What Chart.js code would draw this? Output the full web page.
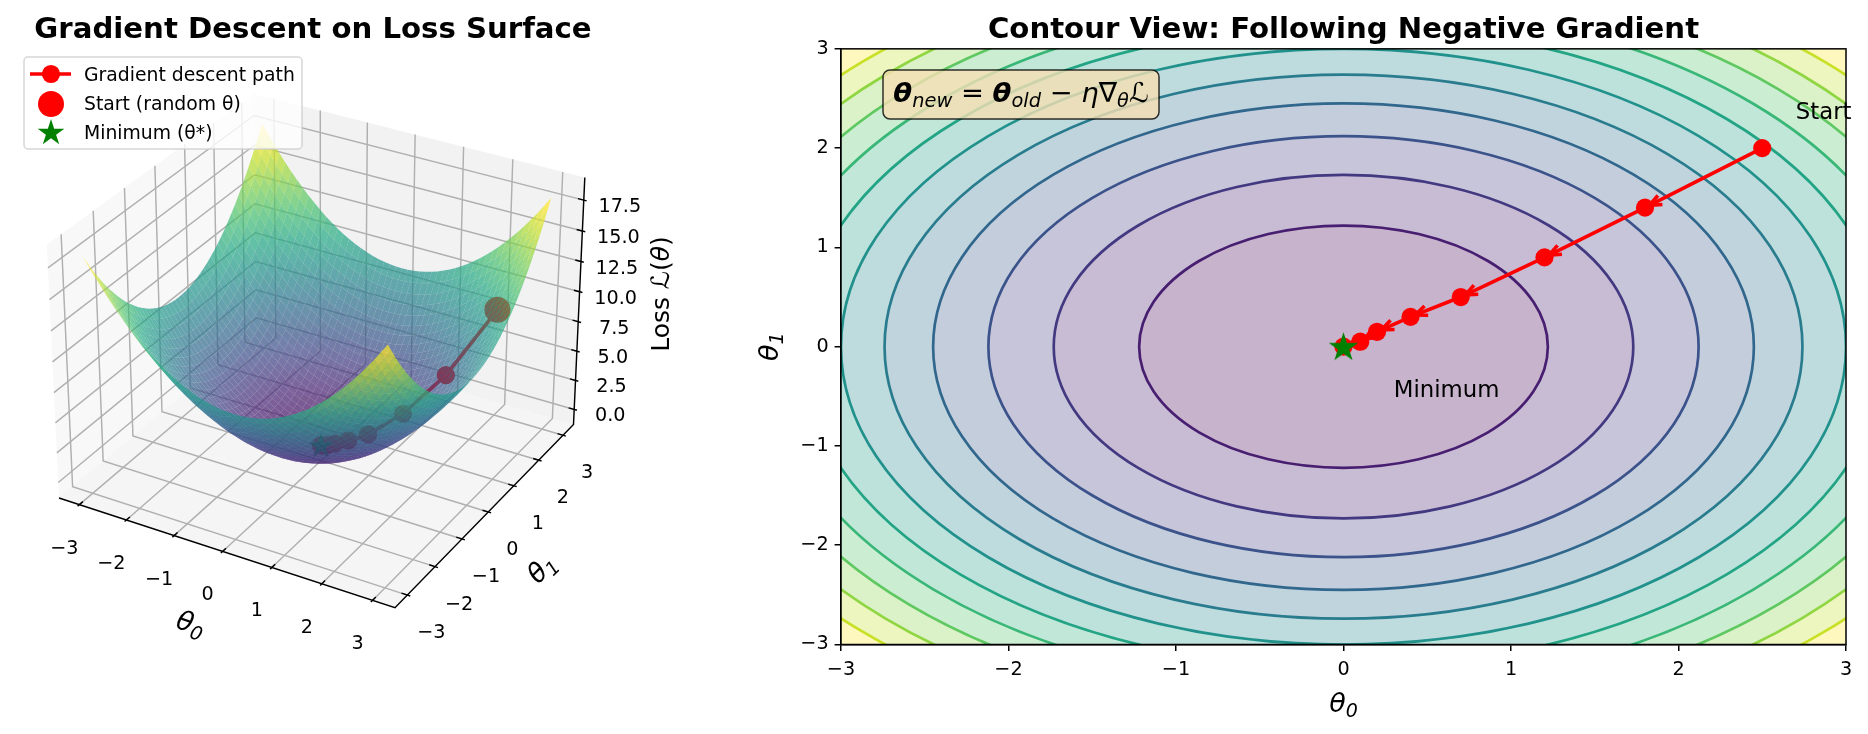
<!DOCTYPE html>
<html>
<head>
<meta charset="utf-8">
<script src="https://cdn.jsdelivr.net/npm/chart.js@4"></script>
<style>
    html, body { margin: 0; padding: 0; background: #fff; }
    canvas { position: absolute; top: 0; }
    #surface { left: 0; }
    #contour { left: 720px; }
</style>
</head>
<body>
<canvas id="surface" width="720" height="734"></canvas>
<canvas id="contour" width="1148" height="734"></canvas>
<script>
// descent path
const pathTheta0 = [2.5, 1.8, 1.2, 0.7, 0.4, 0.2, 0.1, 0];
const pathTheta1 = [2, 1.4, 0.9, 0.5, 0.3, 0.15, 0.05, 0];
const pathLoss = [10.25, 5.2, 2.25, 0.74, 0.25, 0.06, 0.01, 0];

// contour rings
const contourLevels = [1.5, 3, 4.5, 6, 7.5, 9, 10.5, 12, 13.5, 15, 16.5];
const contourRadii = [1.22, 1.73, 2.12, 2.45, 2.74, 3, 3.24, 3.46, 3.67, 3.87, 4.06];

// bowl surface: loss(i, j) = lossProfile[i] + lossProfile[j]
const thetaGrid = [-3, -2.875, -2.75, -2.625, -2.5, -2.375, -2.25, -2.125, -2, -1.875, -1.75, -1.625, -1.5, -1.375, -1.25, -1.125, -1, -0.875, -0.75, -0.625, -0.5, -0.375, -0.25, -0.125, 0, 0.125, 0.25, 0.375, 0.5, 0.625, 0.75, 0.875, 1, 1.125, 1.25, 1.375, 1.5, 1.625, 1.75, 1.875, 2, 2.125, 2.25, 2.375, 2.5, 2.625, 2.75, 2.875, 3];
const lossProfile = [9, 8.27, 7.56, 6.89, 6.25, 5.64, 5.06, 4.52, 4, 3.52, 3.06, 2.64, 2.25, 1.89, 1.56, 1.27, 1, 0.77, 0.56, 0.39, 0.25, 0.14, 0.06, 0.02, 0, 0.02, 0.06, 0.14, 0.25, 0.39, 0.56, 0.77, 1, 1.27, 1.56, 1.89, 2.25, 2.64, 3.06, 3.52, 4, 4.52, 5.06, 5.64, 6.25, 6.89, 7.56, 8.27, 9];

const thetaTicks = [-3, -2, -1, 0, 1, 2, 3];
const lossTicks = [0, 2.5, 5, 7.5, 10, 12.5, 15, 17.5];

const legendLabels = ['Gradient descent path', 'Start (random θ)', 'Minimum (θ*)'];
const noteLabels = ['Start', 'Minimum'];
const noteTheta0 = [2.7, 0.3];
const noteTheta1 = [2.3, -0.5];

const FONT = '"DejaVu Sans"';
const viridis = ['#440154', '#482475', '#414487', '#355f8d', '#2a788e', '#21918c', '#22a884', '#44bf70', '#7ad151', '#bddf26', '#fde725']
    .map(h => [parseInt(h.slice(1, 3), 16), parseInt(h.slice(3, 5), 16), parseInt(h.slice(5, 7), 16)]);

function viridisAt(t) {
    const p = Math.max(0, Math.min(1, t)) * 10;
    const i = Math.min(9, Math.floor(p));
    return viridis[i].map((c, k) => c + (viridis[i + 1][k] - c) * (p - i));
}

function rgba(c, a) {
    return `rgba(${Math.round(c[0])},${Math.round(c[1])},${Math.round(c[2])},${a})`;
}

function fmtMinus(v) {
    return String(v).replace('-', '\u2212');
}

// star marker as a small canvas, chart.js has no filled star
function starCanvas(d) {
    const c = document.createElement('canvas');
    c.width = c.height = d + 2;
    const g = c.getContext('2d');
    starPath(g, (d + 2) / 2, (d + 2) / 2 + 1, d / 2);
    g.fillStyle = '#008000';
    g.fill();
    return c;
}

function starPath(g, x, y, r) {
    g.beginPath();
    for (let i = 0; i < 10; i++) {
        const a = -Math.PI / 2 + i * Math.PI / 5;
        const rr = i % 2 ? r * 0.382 : r;
        g.lineTo(x + rr * Math.cos(a), y + rr * Math.sin(a));
    }
    g.closePath();
}

// text in mixed fonts, parts are [text, font, baseline shift]
function drawMath(ctx, parts, x, y, rotation) {
    ctx.save();
    ctx.translate(x, y);
    ctx.rotate(rotation || 0);
    ctx.textBaseline = 'alphabetic';
    ctx.textAlign = 'left';
    ctx.fillStyle = '#000';
    let width = 0;
    parts.forEach(p => { ctx.font = p[1]; width += ctx.measureText(p[0]).width; });
    let cx = -width / 2;
    parts.forEach(p => {
        ctx.font = p[1];
        ctx.fillText(p[0], cx, p[2] || 0);
        cx += ctx.measureText(p[0]).width;
    });
    ctx.restore();
}

/* ---------- 3d view, elev 30 azim -60 ---------- */
const LIM = 3.4375, ZMIN = -1.3125, ZMAX = 19.3125;
const BOX_XY = 0.5953, BOX_Z = 0.4465;
const ce = Math.cos(Math.PI / 6), se = Math.sin(Math.PI / 6);
const ca = Math.cos(-Math.PI / 3), sa = Math.sin(-Math.PI / 3);

function project(t0, t1, z) {
    const bx = t0 / LIM * BOX_XY;
    const by = t1 / LIM * BOX_XY;
    const bz = ((z - ZMIN) / (ZMAX - ZMIN) * 2 - 1) * BOX_Z;
    const xv = -sa * bx + ca * by;
    const yv = -se * ca * bx - se * sa * by + ce * bz;
    const zv = ce * ca * bx + ce * sa * by + se * bz - 10;
    return {x: xv / -zv, y: yv / -zv, depth: zv};
}

// one polygon per grid cell, back to front
const surfaceCells = [];
for (let i = 0; i < thetaGrid.length - 1; i++) {
    for (let j = 0; j < thetaGrid.length - 1; j++) {
        const corners = [[i, j], [i + 1, j], [i + 1, j + 1], [i, j + 1]].map(c =>
            project(thetaGrid[c[0]], thetaGrid[c[1]], lossProfile[c[0]] + lossProfile[c[1]]));
        const avg = (lossProfile[i] + lossProfile[i + 1]) / 2 + (lossProfile[j] + lossProfile[j + 1]) / 2;
        const depth = corners.reduce((s, c) => s + c.depth, 0) / 4;
        surfaceCells.push({corners, color: rgba(viridisAt(avg / 17.2), 0.7), depth});
    }
}
surfaceCells.sort((a, b) => a.depth - b.depth);

const pathPoints = pathTheta0.map((t, i) => project(t, pathTheta1[i], pathLoss[i]));

const surfacePlugin = {
    id: 'surfacePlugin',
    beforeDatasetsDraw(chart) {
        const ctx = chart.ctx;
        const px = p => [chart.scales.x.getPixelForValue(p.x), chart.scales.y.getPixelForValue(p.y)];
        const pt = (a, b, c) => px(project(a, b, c));
        const poly = (pts, fill) => {
            ctx.beginPath();
            pts.forEach(p => ctx.lineTo(p[0], p[1]));
            ctx.closePath();
            ctx.fillStyle = fill;
            ctx.fill();
        };
        const seg = (pts, color, width) => {
            ctx.beginPath();
            pts.forEach(p => ctx.lineTo(p[0], p[1]));
            ctx.strokeStyle = color;
            ctx.lineWidth = width;
            ctx.stroke();
        };
        ctx.save();
        // panes
        poly([pt(-LIM, -LIM, ZMIN), pt(-LIM, LIM, ZMIN), pt(-LIM, LIM, ZMAX), pt(-LIM, -LIM, ZMAX)], 'rgba(242,242,242,0.5)');
        poly([pt(-LIM, LIM, ZMIN), pt(LIM, LIM, ZMIN), pt(LIM, LIM, ZMAX), pt(-LIM, LIM, ZMAX)], 'rgba(230,230,230,0.5)');
        poly([pt(-LIM, -LIM, ZMIN), pt(LIM, -LIM, ZMIN), pt(LIM, LIM, ZMIN), pt(-LIM, LIM, ZMIN)], 'rgba(236,236,236,0.5)');
        // grid
        const gridColor = '#b0b0b0';
        thetaTicks.forEach(t => {
            seg([pt(t, -LIM, ZMIN), pt(t, LIM, ZMIN), pt(t, LIM, ZMAX)], gridColor, 1.45);
            seg([pt(-LIM, t, ZMAX), pt(-LIM, t, ZMIN), pt(LIM, t, ZMIN)], gridColor, 1.45);
        });
        lossTicks.forEach(z => {
            seg([pt(-LIM, -LIM, z), pt(-LIM, LIM, z), pt(LIM, LIM, z)], gridColor, 1.45);
        });
        // axis lines and ticks
        seg([pt(-LIM, -LIM, ZMIN), pt(LIM, -LIM, ZMIN), pt(LIM, LIM, ZMIN), pt(LIM, LIM, ZMAX)], '#000', 1.45);
        const dt = 0.573, dout = 0.1 * dt, din = 0.2 * dt;
        thetaTicks.forEach(t => {
            seg([pt(t, -LIM - dout, ZMIN), pt(t, -LIM + din, ZMIN)], '#000', 1.45);
            seg([pt(LIM + dout, t, ZMIN), pt(LIM - din, t, ZMIN)], '#000', 1.45);
        });
        lossTicks.forEach(z => {
            seg([pt(LIM + dout, LIM, z), pt(LIM - din, LIM, z)], '#000', 1.45);
        });
        // tick labels
        ctx.font = `19.2px ${FONT}`;
        ctx.fillStyle = '#000';
        ctx.textAlign = 'center';
        ctx.textBaseline = 'middle';
        thetaTicks.forEach(t => {
            const a = pt(t, -LIM, ZMIN);
            ctx.fillText(fmtMinus(t), a[0] - 15, a[1] + 44);
            const b = pt(LIM, t, ZMIN);
            ctx.fillText(fmtMinus(t), b[0] + 24, b[1] + 38);
        });
        lossTicks.forEach(z => {
            const c = pt(LIM, LIM, z);
            ctx.fillText(z.toFixed(1), c[0] + 36, c[1] + 7);
        });
        ctx.restore();
    },
    afterDatasetsDraw(chart) {
        const ctx = chart.ctx;
        const sx = chart.scales.x, sy = chart.scales.y;
        ctx.save();
        surfaceCells.forEach(cell => {
            ctx.beginPath();
            cell.corners.forEach(c => ctx.lineTo(sx.getPixelForValue(c.x), sy.getPixelForValue(c.y)));
            ctx.closePath();
            ctx.fillStyle = cell.color;
            ctx.fill();
        });
        ctx.restore();

        // axis titles
        const it = `italic 27px ${FONT}`, sub = `italic 19px ${FONT}`, reg = `25px ${FONT}`, cal = `italic 25px ${FONT}`;
        drawMath(ctx, [['θ', it], ['0', sub, 5]], 188, 632, 18 * Math.PI / 180);
        drawMath(ctx, [['θ', it], ['1', sub, 5]], 548, 575, -45 * Math.PI / 180);
        drawMath(ctx, [['Loss ', reg], ['ℒ', cal], ['(', reg], ['θ', cal], [')', reg]], 669, 294, -Math.PI / 2);

        // legend
        ctx.save();
        ctx.beginPath();
        ctx.roundRect(24, 57, 278, 92, 4);
        ctx.fillStyle = 'rgba(255,255,255,0.8)';
        ctx.fill();
        ctx.strokeStyle = 'rgba(204,204,204,0.8)';
        ctx.lineWidth = 1.5;
        ctx.stroke();
        ctx.beginPath();
        ctx.moveTo(30, 74);
        ctx.lineTo(71, 74);
        ctx.strokeStyle = '#ff0000';
        ctx.lineWidth = 3.6;
        ctx.stroke();
        ctx.fillStyle = '#ff0000';
        ctx.beginPath();
        ctx.arc(51, 74, 9.1, 0, Math.PI * 2);
        ctx.fill();
        ctx.beginPath();
        ctx.arc(51, 104, 13, 0, Math.PI * 2);
        ctx.fill();
        starPath(ctx, 51, 133, 14);
        ctx.fillStyle = '#008000';
        ctx.fill();
        ctx.fillStyle = '#000';
        ctx.font = `18.8px ${FONT}`;
        ctx.textAlign = 'left';
        ctx.textBaseline = 'middle';
        legendLabels.forEach((label, i) => ctx.fillText(label, 84, 76 + i * 29));
        ctx.restore();
    }
};

new Chart(document.getElementById('surface'), {
    type: 'scatter',
    data: {
        datasets: [
            {
                label: legendLabels[0],
                data: pathPoints.map(p => ({x: p.x, y: p.y})),
                showLine: true,
                borderColor: '#ff0000',
                borderWidth: 3.6,
                backgroundColor: '#ff0000',
                pointRadius: 9.1,
                pointBorderWidth: 0,
                order: 3
            },
            {
                label: legendLabels[1],
                data: [{x: pathPoints[0].x, y: pathPoints[0].y}],
                backgroundColor: '#ff0000',
                pointRadius: 13,
                pointBorderWidth: 0,
                order: 2
            },
            {
                label: legendLabels[2],
                data: [{x: pathPoints[7].x, y: pathPoints[7].y}],
                pointStyle: starCanvas(26),
                order: 1
            }
        ]
    },
    options: {
        responsive: false,
        animation: false,
        devicePixelRatio: 1,
        events: [],
        layout: {autoPadding: false, padding: {left: 0, right: 94, top: 0, bottom: 0}},
        scales: {
            x: {display: false, type: 'linear', min: -0.09929, max: 0.09434},
            y: {display: false, type: 'linear', min: -0.12239, max: 0.08954}
        },
        plugins: {
            legend: {display: false},
            tooltip: {enabled: false},
            title: {
                display: true,
                text: 'Gradient Descent on Loss Surface',
                color: '#000',
                font: {family: FONT, size: 29.2, weight: 'bold'},
                padding: {top: 12.5, bottom: 1.3}
            }
        }
    },
    plugins: [surfacePlugin]
});

/* ---------- contour panel ---------- */
const contourPlugin = {
    id: 'contourPlugin',
    beforeDatasetsDraw(chart) {
        const ctx = chart.ctx, a = chart.chartArea;
        const sx = chart.scales.x, sy = chart.scales.y;
        const cx = sx.getPixelForValue(0), cy = sy.getPixelForValue(0);
        const ring = r => {
            ctx.beginPath();
            ctx.ellipse(cx, cy, sx.getPixelForValue(r) - cx, cy - sy.getPixelForValue(r), 0, 0, Math.PI * 2);
        };
        const band = i => {
            const c = viridisAt(i / contourRadii.length).map(v => v * 0.3 + 255 * 0.7);
            return rgba(c, 1);
        };
        ctx.save();
        ctx.beginPath();
        ctx.rect(a.left, a.top, a.width, a.height);
        ctx.clip();
        ctx.fillStyle = band(contourRadii.length);
        ctx.fillRect(a.left, a.top, a.width, a.height);
        for (let i = contourRadii.length - 1; i >= 0; i--) {
            ring(contourRadii[i]);
            ctx.fillStyle = band(i);
            ctx.fill();
        }
        contourRadii.forEach((r, i) => {
            ring(r);
            ctx.strokeStyle = rgba(viridisAt(contourLevels[i] / 18), 1);
            ctx.lineWidth = 2.7;
            ctx.stroke();
        });
        ctx.restore();
    },
    afterDatasetDraw(chart, args) {
        if (args.index !== 0) return;
        const ctx = chart.ctx;
        const sx = chart.scales.x, sy = chart.scales.y;
        ctx.save();
        ctx.strokeStyle = '#ff0000';
        ctx.lineWidth = 3.6;
        ctx.lineJoin = 'miter';
        for (let i = 1; i < pathTheta0.length; i++) {
            const x0 = sx.getPixelForValue(pathTheta0[i - 1]), y0 = sy.getPixelForValue(pathTheta1[i - 1]);
            const x1 = sx.getPixelForValue(pathTheta0[i]), y1 = sy.getPixelForValue(pathTheta1[i]);
            const len = Math.hypot(x0 - x1, y0 - y1);
            const ux = (x0 - x1) / len, uy = (y0 - y1) / len;
            const tipX = x1 + ux * 5, tipY = y1 + uy * 5;
            ctx.beginPath();
            ctx.moveTo(tipX + ux * 12 - uy * 5, tipY + uy * 12 + ux * 5);
            ctx.lineTo(tipX, tipY);
            ctx.lineTo(tipX + ux * 12 + uy * 5, tipY + uy * 12 - ux * 5);
            ctx.stroke();
        }
        ctx.restore();
    },
    afterDraw(chart) {
        const ctx = chart.ctx, a = chart.chartArea;
        const sx = chart.scales.x, sy = chart.scales.y;
        ctx.save();
        ctx.strokeStyle = '#000';
        ctx.lineWidth = 1.5;
        ctx.strokeRect(a.left, a.top, a.width, a.height);

        // equation box
        ctx.beginPath();
        ctx.roundRect(163, 70, 276, 49, 7);
        ctx.fillStyle = 'rgba(245,222,179,0.8)';
        ctx.fill();
        ctx.strokeStyle = 'rgba(0,0,0,0.8)';
        ctx.lineWidth = 1.5;
        ctx.stroke();
        const big = 27.4, small = 19.4;
        const bi = `italic bold ${big}px ${FONT}`, it = `italic ${big}px ${FONT}`, re = `${big}px ${FONT}`, sb = `italic ${small}px ${FONT}`;
        drawMath(ctx, [
            ['θ', bi], ['new', sb, 5], [' = ', re], ['θ', bi], ['old', sb, 5], [' \u2212 ', re],
            ['η', it], ['∇', re], ['θ', sb, 5], ['ℒ', it]
        ], 301, 102);

        // notes
        ctx.fillStyle = '#000';
        ctx.font = `22.8px ${FONT}`;
        ctx.textAlign = 'left';
        ctx.textBaseline = 'alphabetic';
        noteLabels.forEach((label, i) => {
            ctx.fillText(label, sx.getPixelForValue(noteTheta0[i]), sy.getPixelForValue(noteTheta1[i]) + 1);
        });

        // axis titles
        const ax = `italic 27px ${FONT}`, sub = `italic 19px ${FONT}`;
        drawMath(ctx, [['θ', ax], ['0', sub, 5]], (a.left + a.right) / 2, 712);
        drawMath(ctx, [['θ', ax], ['1', sub, 5]], 58, (a.top + a.bottom) / 2, -Math.PI / 2);
        ctx.restore();
    }
};

function axisOptions(pad, fit) {
    return {
        type: 'linear',
        min: -3,
        max: 3,
        border: {color: '#000', width: 1.5},
        grid: {drawOnChartArea: false, color: '#000', lineWidth: 1.5, tickLength: 6.4},
        ticks: {
            stepSize: 1,
            color: '#000',
            padding: pad,
            maxRotation: 0,
            font: {family: FONT, size: 19.2},
            callback: v => fmtMinus(v)
        },
        afterFit: fit
    };
}

new Chart(document.getElementById('contour'), {
    type: 'scatter',
    data: {
        datasets: [
            {
                label: 'Descent path',
                data: pathTheta0.map((t, i) => ({x: t, y: pathTheta1[i]})),
                showLine: true,
                clip: false,
                borderColor: '#ff0000',
                borderWidth: 3.6,
                backgroundColor: '#ff0000',
                pointRadius: 9.1,
                pointBorderWidth: 0,
                order: 2
            },
            {
                label: 'Minimum',
                data: [{x: 0, y: 0}],
                pointStyle: starCanvas(31),
                order: 1
            }
        ]
    },
    options: {
        responsive: false,
        animation: false,
        devicePixelRatio: 1,
        events: [],
        layout: {autoPadding: false, padding: {left: 61, right: 22, top: 0, bottom: 49.5}},
        scales: {
            x: axisOptions(8, s => { s.height = 40; }),
            y: axisOptions(6, s => { s.width = 60; })
        },
        plugins: {
            legend: {display: false},
            tooltip: {enabled: false},
            title: {
                display: true,
                fullSize: false,
                text: 'Contour View: Following Negative Gradient',
                color: '#000',
                font: {family: FONT, size: 29.2, weight: 'bold'},
                padding: {top: 12.5, bottom: 1.3}
            }
        }
    },
    plugins: [contourPlugin]
});
</script>
</body>
</html>
